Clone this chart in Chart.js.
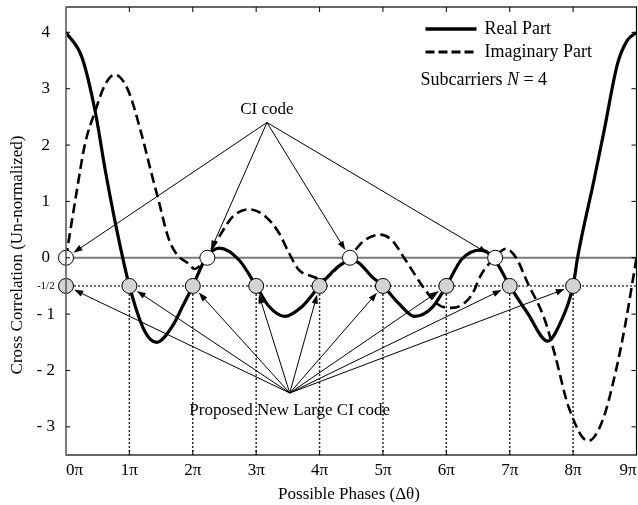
<!DOCTYPE html>
<html>
<head>
<meta charset="utf-8">
<script src="https://cdn.jsdelivr.net/npm/chart.js@4.4.1/dist/chart.umd.min.js"></script>
<style>
  html, body { margin: 0; padding: 0; background: #fff; }
  #wrap { width: 638px; height: 505px; }
</style>
</head>
<body>
<div id="wrap"><canvas id="chart"></canvas></div>
<script>
// x values are in units of pi
const realX = [0, 0.25, 0.46, 0.62, 0.8, 1.0, 1.24, 1.43, 1.68, 1.84, 2.0, 2.21, 2.42, 2.73, 3.0, 3.2, 3.45, 3.73, 4.0, 4.3, 4.5, 4.62, 4.82, 5.0, 5.24, 5.5, 5.77, 6.0, 6.24, 6.55, 6.76, 7.0, 7.28, 7.6, 7.8, 8.0, 8.07, 8.33, 8.49, 8.7, 8.85, 9.0];
const realY = [4.0, 3.56, 2.6, 1.55, 0.5, -0.5, -1.3, -1.5, -1.21, -0.86, -0.5, 0.0, 0.17, -0.04, -0.5, -0.86, -1.04, -0.86, -0.5, -0.15, -0.05, -0.09, -0.33, -0.5, -0.8, -1.04, -0.89, -0.5, -0.03, 0.14, -0.03, -0.5, -0.98, -1.48, -1.15, -0.5, 0.0, 1.38, 2.26, 3.44, 3.85, 4.0];

const imagX = [0, 0.146, 0.30, 0.46, 0.62, 0.77, 0.98, 1.19, 1.35, 1.46, 1.61, 1.74, 1.93, 2.03, 2.21, 2.42, 2.63, 2.89, 3.15, 3.36, 3.52, 3.67, 3.88, 4.05, 4.3, 4.46, 4.7, 4.96, 5.15, 5.35, 5.66, 5.87, 6.08, 6.39, 6.55, 6.76, 6.94, 7.1, 7.28, 7.55, 7.72, 7.93, 8.24, 8.46, 8.67, 8.82, 9.0];
const imagY = [0, 1.02, 2.02, 2.6, 3.08, 3.25, 2.97, 2.2, 1.49, 1.02, 0.37, 0.07, -0.1, -0.2, 0.0, 0.38, 0.73, 0.86, 0.73, 0.44, 0.08, -0.21, -0.33, -0.38, -0.16, 0.0, 0.3, 0.41, 0.3, -0.03, -0.56, -0.83, -0.89, -0.68, -0.3, 0.0, 0.16, 0.0, -0.44, -1.09, -1.75, -2.65, -3.25, -2.9, -2.03, -1.2, 0];

// CI code points (white) and proposed large CI code points (grey)
const ciX = [0, 2.23, 4.48, 6.77];
const ciY = [0, 0, 0, 0];
const largeX = [0, 1, 2, 3, 4, 5, 6, 7, 8];
const largeY = [-0.5, -0.5, -0.5, -0.5, -0.5, -0.5, -0.5, -0.5, -0.5];

const xTickLabels = ['0π', '1π', '2π', '3π', '4π', '5π', '6π', '7π', '8π', '9π'];
const yTickValues = [-3, -2, -1, -0.5, 0, 1, 2, 3, 4];
const yTickLabels = ['- 3', '- 2', '- 1', '-1/2', '0', '1', '2', '3', '4'];

const ciText = 'CI code';
const ciApex = [3.17, 2.4];
const largeText = 'Proposed New Large CI code';
const largeApex = [3.53, -2.4];

const seriesNames = ['Real Part', 'Imaginary Part'];
const noteText = ['Subcarriers ', 'N', ' = 4'];
const xTitle = 'Possible Phases (Δθ)';
const yTitle = 'Cross Correlation (Un-normalized)';

const FONT = '"Liberation Serif", "Times New Roman", serif';
const R = 7.5;

function pts(xs, ys) { return xs.map((x, i) => ({ x, y: ys[i] })); }

function arrow(ctx, x0, y0, cx, cy) {
  const dx = cx - x0, dy = cy - y0;
  const len = Math.hypot(dx, dy);
  const ux = dx / len, uy = dy / len;
  const tx = cx - ux * (R + 1.5), ty = cy - uy * (R + 1.5);
  const hl = 9, hw = 3.2;
  ctx.beginPath();
  ctx.moveTo(x0, y0);
  ctx.lineTo(tx - ux * hl * 0.8, ty - uy * hl * 0.8);
  ctx.stroke();
  ctx.beginPath();
  ctx.moveTo(tx, ty);
  ctx.lineTo(tx - ux * hl - uy * hw, ty - uy * hl + ux * hw);
  ctx.lineTo(tx - ux * hl + uy * hw, ty - uy * hl - ux * hw);
  ctx.closePath();
  ctx.fill();
}

const decor = {
  id: 'decor',
  beforeDatasetsDraw(chart) {
    const { ctx, chartArea: a, scales: { x, y } } = chart;
    ctx.save();
    // zero line
    ctx.strokeStyle = '#7a7a7a';
    ctx.lineWidth = 2;
    ctx.beginPath();
    ctx.moveTo(a.left, y.getPixelForValue(0));
    ctx.lineTo(a.right, y.getPixelForValue(0));
    ctx.stroke();
    // -1/2 dotted line
    ctx.strokeStyle = '#222';
    ctx.lineWidth = 1.3;
    ctx.setLineDash([2, 2]);
    const yh = y.getPixelForValue(-0.5);
    ctx.beginPath();
    ctx.moveTo(a.left, yh);
    ctx.lineTo(a.right, yh);
    ctx.stroke();
    // vertical dotted drops
    ctx.lineWidth = 1.5;
    largeX.forEach(v => {
      if (v === 0) return;
      const px = x.getPixelForValue(v);
      ctx.beginPath();
      ctx.moveTo(px, yh);
      ctx.lineTo(px, a.bottom);
      ctx.stroke();
    });
    ctx.restore();
  },
  afterDraw(chart) {
    const { ctx, chartArea: a, scales: { x, y } } = chart;
    ctx.save();
    ctx.strokeStyle = '#000';
    ctx.fillStyle = '#000';
    ctx.lineWidth = 1;

    // arrows to CI code
    const cax = x.getPixelForValue(ciApex[0]), cay = y.getPixelForValue(ciApex[1]);
    ciX.forEach((v, i) => arrow(ctx, cax, cay, x.getPixelForValue(v), y.getPixelForValue(ciY[i])));
    const lax = x.getPixelForValue(largeApex[0]), lay = y.getPixelForValue(largeApex[1]);
    largeX.forEach((v, i) => arrow(ctx, lax, lay, x.getPixelForValue(v), y.getPixelForValue(largeY[i])));

    ctx.font = '17px ' + FONT;
    ctx.textAlign = 'center';
    ctx.textBaseline = 'middle';
    ctx.fillText(ciText, cax, cay - 13);
    ctx.fillText(largeText, lax, lay + 18);

    // frame
    ctx.lineWidth = 1.2;
    ctx.strokeStyle = '#000';
    ctx.strokeRect(a.left, a.top, a.right - a.left, a.bottom - a.top);
    ctx.strokeStyle = '#8a8a8a';
    ctx.beginPath();
    ctx.moveTo(a.left, a.top);
    ctx.lineTo(a.left, a.bottom);
    ctx.stroke();
    // inward ticks
    ctx.strokeStyle = '#000';
    ctx.lineWidth = 1;
    for (let v = 1; v < 9; v++) {
      const px = x.getPixelForValue(v);
      ctx.beginPath();
      ctx.moveTo(px, a.top); ctx.lineTo(px, a.top + 5);
      ctx.moveTo(px, a.bottom); ctx.lineTo(px, a.bottom - 5);
      ctx.stroke();
    }
    yTickValues.forEach(v => {
      if (v !== Math.round(v)) return;
      const py = y.getPixelForValue(v);
      ctx.beginPath();
      ctx.moveTo(a.right, py); ctx.lineTo(a.right - 5, py);
      ctx.moveTo(a.left, py); ctx.lineTo(a.left + 4, py);
      ctx.stroke();
    });

    // legend
    const lx0 = a.right - 211, lx1 = a.right - 160;
    ctx.lineWidth = 3.5;
    ctx.beginPath(); ctx.moveTo(lx0, 29); ctx.lineTo(lx1, 29); ctx.stroke();
    ctx.lineWidth = 2.8;
    ctx.setLineDash([9, 4]);
    ctx.beginPath(); ctx.moveTo(lx0, 52); ctx.lineTo(lx1, 52); ctx.stroke();
    ctx.setLineDash([]);
    ctx.font = '18px ' + FONT;
    ctx.textAlign = 'left';
    ctx.fillText(seriesNames[0], lx1 + 8, 29);
    ctx.fillText(seriesNames[1], lx1 + 8, 52);
    let nx = a.right - 216;
    ctx.fillText(noteText[0], nx, 80);
    nx += ctx.measureText(noteText[0]).width;
    ctx.font = 'italic 18px ' + FONT;
    ctx.fillText(noteText[1], nx, 80);
    nx += ctx.measureText(noteText[1]).width;
    ctx.font = '18px ' + FONT;
    ctx.fillText(noteText[2], nx, 80);

    // axis titles
    ctx.font = '17px ' + FONT;
    ctx.textAlign = 'center';
    ctx.fillText(xTitle, 349, 495);
    ctx.translate(18, 255);
    ctx.rotate(-Math.PI / 2);
    ctx.fillText(yTitle, 0, 0);
    ctx.restore();
  }
};

new Chart(document.getElementById('chart'), {
  type: 'line',
  data: {
    datasets: [
      {
        label: 'CI code',
        data: pts(ciX, ciY),
        showLine: false,
        clip: false,
        pointRadius: R,
        pointBackgroundColor: '#fff',
        pointBorderColor: '#000',
        pointBorderWidth: 1
      },
      {
        label: 'Proposed New Large CI code',
        data: pts(largeX, largeY),
        showLine: false,
        clip: false,
        pointRadius: R,
        pointBackgroundColor: '#d3d3d3',
        pointBorderColor: '#000',
        pointBorderWidth: 1
      },
      {
        label: seriesNames[0],
        data: pts(realX, realY),
        borderColor: '#000',
        borderWidth: 3.2,
        pointRadius: 0,
        cubicInterpolationMode: 'monotone',
        fill: false
      },
      {
        label: seriesNames[1],
        data: pts(imagX, imagY),
        borderColor: '#000',
        borderWidth: 2.6,
        borderDash: [10, 5],
        pointRadius: 0,
        cubicInterpolationMode: 'monotone',
        fill: false
      }
    ]
  },
  options: {
    responsive: true,
    maintainAspectRatio: false,
    animation: false,
    layout: { autoPadding: false, padding: { top: 7, right: 1.5, left: 0, bottom: 0 } },
    plugins: { legend: { display: false }, tooltip: { enabled: false } },
    scales: {
      x: {
        type: 'linear',
        min: 0,
        max: 9,
        grid: { display: false, drawTicks: false },
        border: { display: false },
        afterFit: s => { s.height = 50; s.paddingLeft = 0; s.paddingRight = 0; },
        ticks: {
          stepSize: 1,
          autoSkip: false,
          maxRotation: 0,
          align: 'inner',
          padding: 5,
          color: '#000',
          font: { family: FONT, size: 17 },
          callback: v => xTickLabels[v]
        }
      },
      y: {
        min: -3.5,
        max: 4.45,
        grid: { display: false, drawTicks: false },
        border: { display: false },
        afterFit: s => { s.width = 66; s.paddingTop = 0; s.paddingBottom = 0; },
        afterBuildTicks: s => { s.ticks = yTickValues.map(v => ({ value: v })); },
        ticks: {
          crossAlign: 'center',
          padding: 11,
          color: '#000',
          font: c => (c.tick && c.tick.value === -0.5)
            ? { family: FONT, size: 11 }
            : { family: FONT, size: 17 },
          callback: v => yTickLabels[yTickValues.indexOf(v)]
        }
      }
    }
  },
  plugins: [decor]
});
</script>
</body>
</html>
